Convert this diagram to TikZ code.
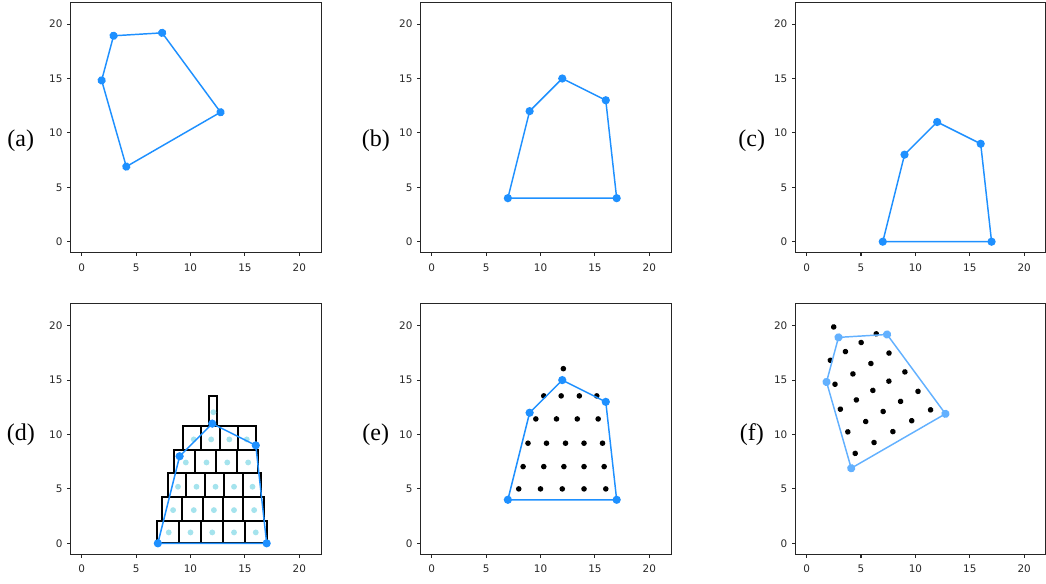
\documentclass[tikz,border=0pt]{standalone}
\usepackage{fontspec}
\setmainfont{Liberation Serif}
\newfontfamily\tickfont{DejaVu Sans}
\usetikzlibrary{calc}
\definecolor{hullblue}{RGB}{30,144,255}
\definecolor{hullpale}{RGB}{99,177,255}
\definecolor{cellcyan}{RGB}{165,227,237}
\definecolor{tickgray}{RGB}{40,40,40}

% cell centres of the decomposition (panel d)
\newcommand{\gridpts}{8/1,10/1,12/1,14/1,16/1,
  8.4/3.05,10.3/3.05,12.15/3.05,14/3.05,15.85/3.05,
  8.85/5.2,10.55/5.2,12.3/5.2,14/5.2,15.7/5.2,
  9.57/7.43,11.47/7.43,13.38/7.43,15.3/7.43,
  10.3/9.55,11.9/9.55,13.57/9.55,15.17/9.55,
  12.1/12.05}

% frame and ticks of one plot
\newcommand{\axesbox}{%
  \draw[axisline] (-1,-1) rectangle (22,22);
  \foreach \t in {0,5,...,20}{
    \draw[axisline] (\t,-1) -- ++(0,-2.6pt);
    \node[ticklab,anchor=north] (xt\t) at ([yshift=-8pt]\t,-1) {\t};
    \draw[axisline] (-1,\t) -- ++(-2.6pt,0);
    \node[ticklab,anchor=east] (yt\t) at ([xshift=-6.1pt]-1,\t) {\t};
  }}

% the hull with its corner markers
\newcommand{\hullpoly}[1]{%
  \coordinate (h1) at (7,0);
  \coordinate (h2) at (9,8);
  \coordinate (h3) at (12,11);
  \coordinate (h4) at (16,9);
  \coordinate (h5) at (17,0);
  \draw[hull=#1] (h1) -- (h2) -- (h3) -- (h4) -- (h5) -- cycle;
  \foreach \v in {1,...,5} \fill[#1] (h\v) circle[radius=3.1pt];
}

\begin{document}
\begin{tikzpicture}[x=0.75pt,y=0.75pt,
    panel/.style={shift={#1},x=8.16pt,y=8.16pt},
    axisline/.style={draw=black!85,line width=0.8pt},
    ticklab/.style={font=\tickfont\fontsize{7.8}{9}\selectfont,text=tickgray,inner sep=0},
    panellab/.style={font=\fontsize{18}{20}\selectfont,inner sep=0},
    hull/.style={draw=#1,line width=1.1pt,line join=round},
    cell/.style={draw=black,line width=1.5pt}]
  \useasboundingbox (0,0) rectangle (1046,583);

  % (a) rotated hull
  \begin{scope}[panel={(81.7,341.3)}]
    \axesbox
    \begin{scope}[shift={(4.1,6.9)},rotate=30,shift={(-7,0)}]
      \hullpoly{hullblue}
    \end{scope}
  \end{scope}
  \node[panellab] (la) at (20.8,442.5) {(a)};

  % (b) shifted hull
  \begin{scope}[panel={(431.7,341.3)}]
    \axesbox
    \begin{scope}[shift={(0,4)}]
      \hullpoly{hullblue}
    \end{scope}
  \end{scope}
  \node[panellab] (lb) at (375.8,442.5) {(b)};

  % (c) hull on the axis
  \begin{scope}[panel={(806.6,341.3)}]
    \axesbox
    \hullpoly{hullblue}
  \end{scope}
  \node[panellab] (lc) at (751.8,442.5) {(c)};

  % (d) cells
  \begin{scope}[panel={(81.7,39.7)}]
    \axesbox
    \foreach \ya/\yb/\xl/\xr/\n in {0/2.05/6.95/17.05/5, 2.05/4.23/7.4/16.72/5,
        4.23/6.43/7.9/16.5/5, 6.43/8.58/8.48/16.23/4, 8.58/10.78/9.34/16/4,
        10.78/13.55/11.7/12.4/1}{
      \pgfmathsetmacro\w{(\xr-\xl)/\n}
      \foreach \k in {1,...,\n}
        \draw[cell] ({\xl+(\k-1)*\w},\ya) rectangle ({\xl+\k*\w},\yb);
    }
    \foreach \gx/\gy in \gridpts \fill[cellcyan] (\gx,\gy) circle[radius=2.2pt];
    \hullpoly{hullblue}
  \end{scope}
  \node[panellab] (ld) at (20.8,148) {(d)};

  % (e) points shifted up
  \begin{scope}[panel={(431.7,39.7)}]
    \axesbox
    \begin{scope}[shift={(0,4)}]
      \foreach \gx/\gy in \gridpts \fill[black] (\gx,\gy) circle[radius=2.1pt];
      \hullpoly{hullblue}
    \end{scope}
  \end{scope}
  \node[panellab] (le) at (375.8,148) {(e)};

  % (f) points rotated
  \begin{scope}[panel={(806.6,39.7)}]
    \axesbox
    \begin{scope}[shift={(4.1,6.9)},rotate=30,shift={(-7,0)}]
      \foreach \gx/\gy in \gridpts \fill[black] (\gx,\gy) circle[radius=2.1pt];
      \hullpoly{hullpale}
    \end{scope}
  \end{scope}
  \node[panellab] (lf) at (751.8,148) {(f)};
\end{tikzpicture}
\end{document}
